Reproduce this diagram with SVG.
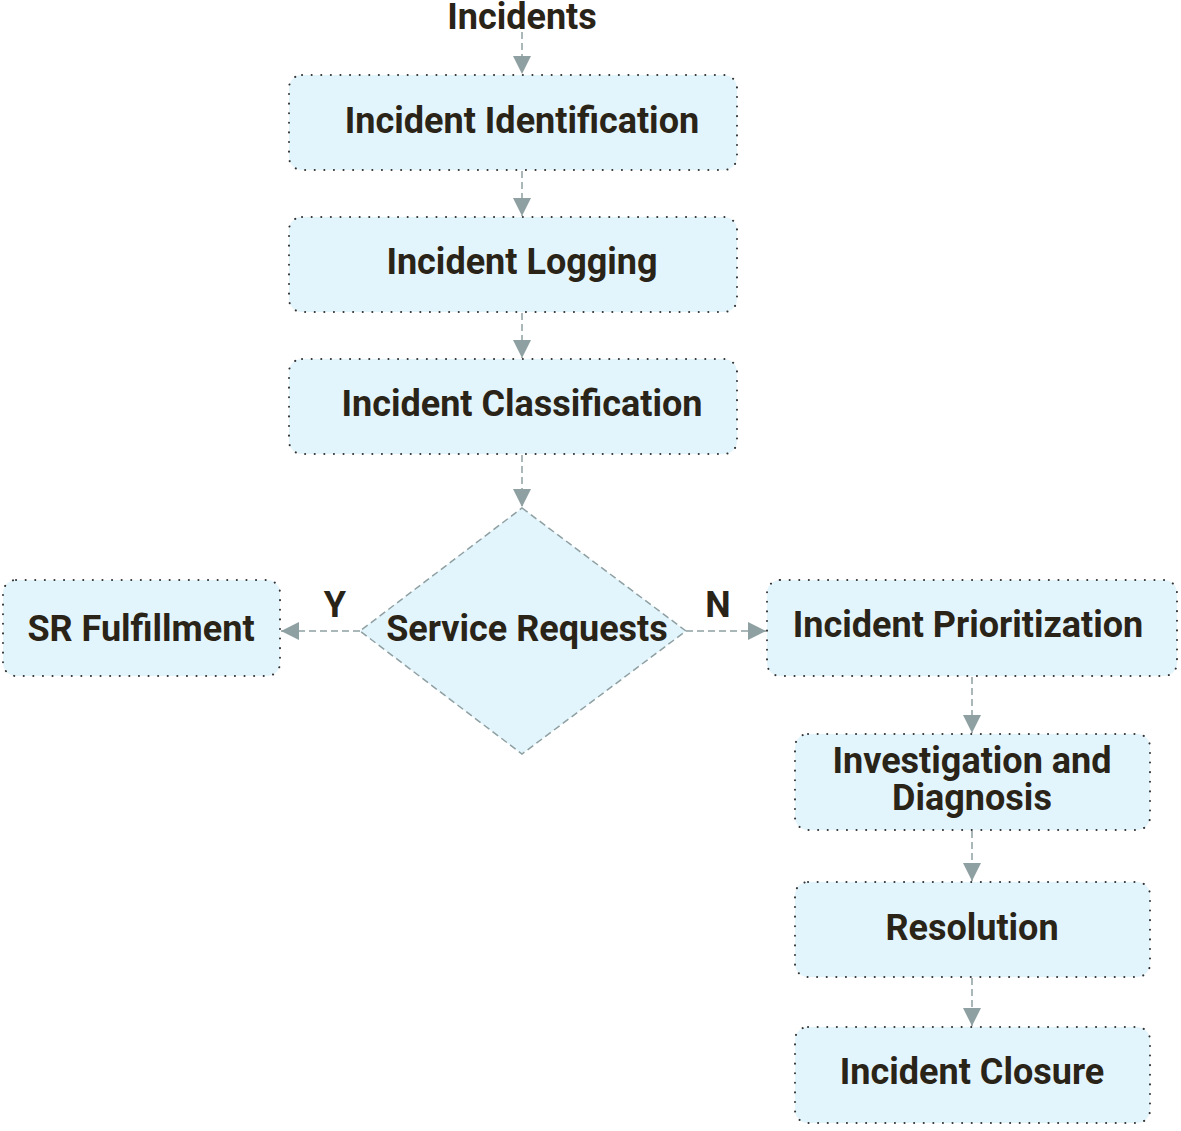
<svg xmlns="http://www.w3.org/2000/svg" width="1181" height="1131" viewBox="0 0 1181 1131">
<style>
.box{fill:#e3f5fc;stroke:#333;stroke-width:2;stroke-dasharray:0.1 9.5;stroke-linecap:round}
.dia{fill:#e3f5fc;stroke:#8fa0a3;stroke-width:1.5;stroke-dasharray:7 4}
.t{font-family:Roboto,"Liberation Sans",sans-serif;font-weight:bold;font-size:36px;fill:#2a2418;text-anchor:middle}
.c{stroke:#8fa0a3;stroke-width:1.5;stroke-dasharray:7 4;fill:none}
</style>
<defs>
<marker id="ah" viewBox="0 0 10 10" refX="10" refY="5" markerWidth="18" markerHeight="18" markerUnits="userSpaceOnUse" orient="auto">
<path d="M0,0 L10,5 L0,10 z" fill="#8fa0a3"/>
</marker>
</defs>
<rect width="1181" height="1131" fill="#fff"/>
<g id="connectors">
<line class="c" x1="522" y1="32" x2="522" y2="74" marker-end="url(#ah)"/>
<line class="c" x1="522" y1="171" x2="522" y2="216" marker-end="url(#ah)"/>
<line class="c" x1="522" y1="313" x2="522" y2="358" marker-end="url(#ah)"/>
<line class="c" x1="522" y1="455" x2="522" y2="507" marker-end="url(#ah)"/>
<line class="c" x1="360" y1="631" x2="281" y2="631" marker-end="url(#ah)"/>
<line class="c" x1="686" y1="631" x2="766" y2="631" marker-end="url(#ah)"/>
<line class="c" x1="972" y1="677" x2="972" y2="733" marker-end="url(#ah)"/>
<line class="c" x1="972" y1="831" x2="972" y2="881" marker-end="url(#ah)"/>
<line class="c" x1="972" y1="978" x2="972" y2="1026" marker-end="url(#ah)"/>
<text class="t" x="335" y="617" font-size="34">Y</text>
<text class="t" x="718" y="617" font-size="34">N</text>
</g>
<g id="incidents"><text class="t" x="522" y="29">Incidents</text></g>
<g id="identification"><rect class="box" x="289" y="75" width="448" height="95" rx="13"/><text class="t" x="522" y="133">Incident Identification</text></g>
<g id="logging"><rect class="box" x="289" y="217" width="448" height="95" rx="13"/><text class="t" x="522" y="274">Incident Logging</text></g>
<g id="classification"><rect class="box" x="289" y="359" width="448" height="95" rx="13"/><text class="t" x="522" y="416">Incident Classification</text></g>
<g id="service-requests"><polygon class="dia" points="522,508 686,631 522,754 360,631"/><text class="t" x="527" y="641">Service Requests</text></g>
<g id="sr-fulfillment"><rect class="box" x="3" y="580" width="277" height="96" rx="13"/><text class="t" x="141" y="641">SR Fulfillment</text></g>
<g id="prioritization"><rect class="box" x="767" y="580" width="410" height="96" rx="13"/><text class="t" x="968" y="637">Incident Prioritization</text></g>
<g id="investigation"><rect class="box" x="795" y="734" width="355" height="96" rx="13"/><text class="t" x="972" y="773">Investigation and</text><text class="t" x="972" y="810">Diagnosis</text></g>
<g id="resolution"><rect class="box" x="795" y="882" width="355" height="95" rx="13"/><text class="t" x="972" y="940">Resolution</text></g>
<g id="closure"><rect class="box" x="795" y="1027" width="355" height="96" rx="13"/><text class="t" x="972" y="1084">Incident Closure</text></g>
</svg>
